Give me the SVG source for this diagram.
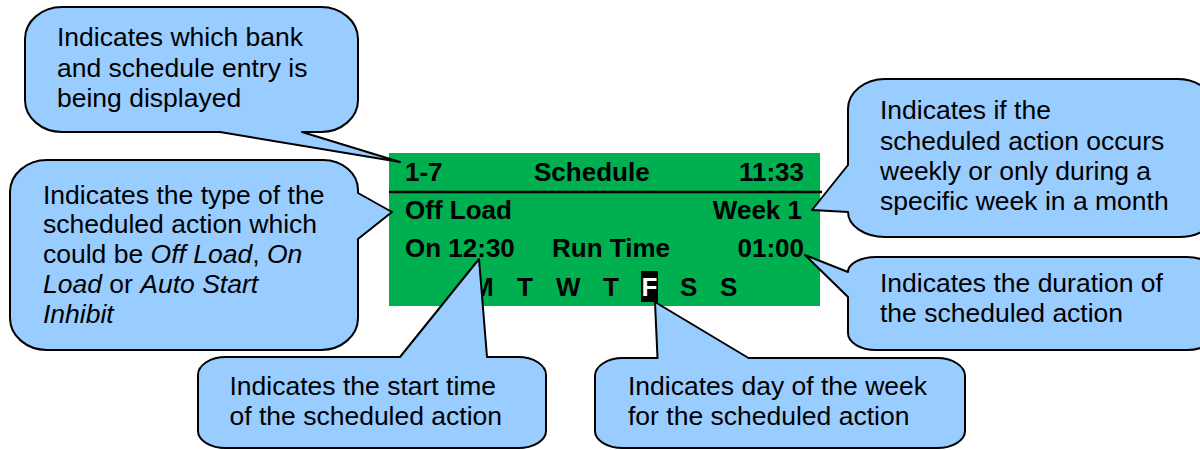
<svg xmlns="http://www.w3.org/2000/svg" width="1200" height="450" viewBox="0 0 1200 450">
<style>
.bub{fill:#99CCFF;stroke:#000;stroke-width:2;stroke-linejoin:round}
.t{font-family:"Liberation Sans",Arial,sans-serif;font-size:26.5px;fill:#000}
.d{font-family:"Liberation Sans",Arial,sans-serif;font-size:26px;font-weight:bold;fill:#000}
.i{font-style:italic}
</style>
<rect width="1200" height="450" fill="#fff"/>
<g id="display">
<rect x="389" y="153" width="431" height="153" fill="#00B050"/>
<line x1="389" y1="192" x2="822" y2="192" stroke="#000" stroke-width="2.5"/>
<text class="d" x="405" y="181">1-7</text>
<text class="d" x="534" y="181">Schedule</text>
<text class="d" x="804" y="181" text-anchor="end">11:33</text>
<text class="d" x="405" y="219">Off Load</text>
<text class="d" x="802" y="219" text-anchor="end">Week 1</text>
<text class="d" x="405" y="257">On 12:30</text>
<text class="d" x="552" y="257">Run Time</text>
<text class="d" x="804" y="257" text-anchor="end">01:00</text>
<text class="d" x="472" y="296">M</text>
<text class="d" x="517" y="296">T</text>
<text class="d" x="556" y="296">W</text>
<text class="d" x="603" y="296">T</text>
<rect x="641" y="271" width="17" height="31" fill="#000"/>
<text class="d" x="641.5" y="296" style="fill:#fff">F</text>
<text class="d" x="680" y="296">S</text>
<text class="d" x="720" y="296">S</text>
</g>
<g id="connectors"></g>
<g id="callout-bank">
<path class="bub" d="M 62,7 H 321 A 37 32 0 0 1 358,39 V 100 A 37 32 0 0 1 321,132 H 302 L 400,162 L 220,132 H 62 A 37 32 0 0 1 25,100 V 39 A 37 32 0 0 1 62,7 Z"/>
<text class="t" x="57" y="46">Indicates which bank</text>
<text class="t" x="57" y="77">and schedule entry is</text>
<text class="t" x="57" y="107">being displayed</text>
</g>
<g id="callout-type">
<path class="bub" d="M 47,160 H 323 A 35 30 0 0 1 358,190 V 193 L 392,212 L 358,239 V 318 A 37 32 0 0 1 321,350 H 47 A 37 32 0 0 1 10,318 V 192 A 37 32 0 0 1 47,160 Z"/>
<text class="t" x="43" y="203.5">Indicates the type of the</text>
<text class="t" x="43" y="233">scheduled action which</text>
<text class="t" x="43" y="263">could be <tspan class="i">Off Load</tspan>, <tspan class="i">On</tspan></text>
<text class="t" x="43" y="293"><tspan class="i">Load</tspan> or <tspan class="i">Auto Start</tspan></text>
<text class="t" x="43" y="323"><tspan class="i">Inhibit</tspan></text>
</g>
<g id="callout-week">
<path class="bub" d="M 885,79 H 1178 A 37 30 0 0 1 1215,109 V 207 A 37 25 0 0 1 1178,237 H 885 A 37 25 0 0 1 848,212 L 812,210 L 848,165 V 109 A 37 30 0 0 1 885,79 Z"/>
<text class="t" x="880" y="119">Indicates if the</text>
<text class="t" x="880" y="150">scheduled action occurs</text>
<text class="t" x="880" y="180">weekly or only during a</text>
<text class="t" x="880" y="210">specific week in a month</text>
</g>
<g id="callout-duration">
<path class="bub" d="M 876,257 H 1187 A 28 17 0 0 1 1215,274 V 333 A 28 17 0 0 1 1187,350 H 876 A 28 17 0 0 1 848,333 V 297 L 805,255 L 848,272 A 28 15 0 0 1 876,257 Z"/>
<text class="t" x="880" y="292">Indicates the duration of</text>
<text class="t" x="880" y="322">the scheduled action</text>
</g>
<g id="callout-start">
<path class="bub" d="M 226,357 H 400 L 479,259 L 487,357 H 518 A 28 18 0 0 1 546,375 V 431 A 28 17 0 0 1 518,448 H 226 A 28 17 0 0 1 198,431 V 375 A 28 18 0 0 1 226,357 Z"/>
<text class="t" x="229.5" y="395">Indicates the start time</text>
<text class="t" x="229.5" y="425">of the scheduled action</text>
</g>
<g id="callout-day">
<path class="bub" d="M 623,358 H 657.5 L 655,302 L 748.5,358 H 937 A 28 18 0 0 1 965,376 V 431 A 28 17 0 0 1 937,448 H 623 A 28 17 0 0 1 595,431 V 376 A 28 18 0 0 1 623,358 Z"/>
<text class="t" x="628" y="395">Indicates day of the week</text>
<text class="t" x="628" y="425">for the scheduled action</text>
</g>
</svg>
